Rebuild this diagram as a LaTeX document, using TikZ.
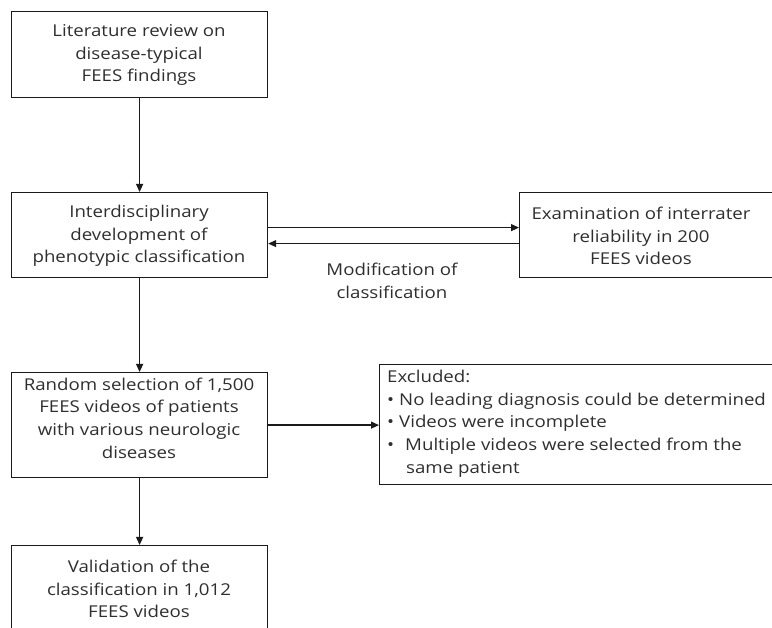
\documentclass[tikz,border=0pt]{standalone}
\usepackage{fontspec}
\setmainfont{Open Sans}[FakeStretch=1.145]
\usetikzlibrary{arrows.meta}
\definecolor{txtc}{HTML}{2E2E2E}
\definecolor{linec}{HTML}{1A1A1A}
\tikzset{
  boxshape/.style={draw=linec, line width=1.2pt, rectangle, inner sep=0pt},
  txt/.style={text=txtc, font=\fontsize{16.3}{22.7}\selectfont, align=center, inner sep=0pt},
  ltxt/.style={text=txtc, font=\fontsize{16.3}{22.7}\selectfont, align=left, inner sep=0pt},
  arr/.style={draw=linec, line width=1.2pt, -{Triangle[length=8pt,width=7pt]}},
}
\begin{document}
\begin{tikzpicture}[x=1pt,y=-1pt]
\useasboundingbox (0,0) rectangle (772,628);
\clip (0,0) rectangle (772,628);
% left column boxes
\node[boxshape, anchor=north west, minimum width=256pt, minimum height=86pt] (lit) at (11,11) {};
\node[txt] (littxt) at (139,55) {Literature review on\\disease-typical\\FEES findings};
\node[boxshape, anchor=north west, minimum width=256pt, minimum height=85pt] (inter) at (11,192) {};
\node[txt] (intertxt) at (139,236) {Interdisciplinary\\development of\\phenotypic classification};
\node[boxshape, anchor=north west, minimum width=256pt, minimum height=105pt] (rand) at (11,372) {};
\node[txt] (randtxt) at (139,418) {Random selection of 1,500\\FEES videos of patients\\with various neurologic\\diseases};
\node[boxshape, anchor=north west, minimum width=256pt, minimum height=110pt] (valid) at (11,545) {};
\node[txt] (validtxt) at (139,589) {Validation of the\\classification in 1,012\\FEES videos};
% right boxes
\node[boxshape, anchor=north west, minimum width=280pt, minimum height=85pt] (exam) at (519,192) {};
\node[txt] (examtxt) at (641,236) {Examination of interrater\\reliability in 200\\FEES videos};
\node[boxshape, anchor=north west, minimum width=420pt, minimum height=120pt] (excl) at (379,364) {};
\node[ltxt, anchor=north west] (excltxt) at (387,370) {Excluded:\\
\makebox[12pt][l]{•}No leading diagnosis could be determined\\
\makebox[12pt][l]{•}Videos were incomplete\\
\makebox[18pt][l]{•}Multiple videos were selected from the\\
\hspace*{19pt}same patient};
% label
\node[txt] (modlbl) at (392,281) {Modification of\\classification};
% connectors
\draw[arr] (lit.south) -- (inter.north);
\draw[arr] ([yshift=7.5pt]inter.east) -- ([yshift=7.5pt]exam.west);
\draw[arr] ([yshift=-8.5pt]exam.west) -- ([yshift=-8.5pt]inter.east);
\draw[arr] (inter.south) -- (rand.north);
\draw[arr] (rand.east) -- (excl.west |- rand.east);
\draw[arr] (rand.south) -- (valid.north);
\end{tikzpicture}
\end{document}
